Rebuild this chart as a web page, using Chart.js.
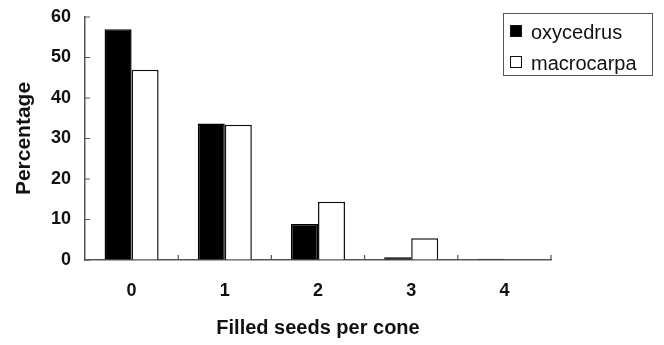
<!DOCTYPE html>
<html>
<head>
<meta charset="utf-8">
<script src="https://cdn.jsdelivr.net/npm/chart.js@4"></script>
<style>
    body { margin: 0; background: #fff; }
    #wrap { position: relative; width: 664px; height: 345px; }
    #legend {
        position: absolute; left: 503px; top: 13px; width: 148px; height: 61px;
        border: 1.5px solid #555; font-family: "Liberation Sans", Arial, sans-serif;
        font-size: 20px; color: #111;
    }
    .row { position: absolute; left: 6px; height: 22px; line-height: 22px; }
    .box { position: absolute; left: 0; top: 4px; width: 12px; height: 12px; border: 1.5px solid #111; box-sizing: border-box; }
    .lbl { position: absolute; left: 21px; top: 0; white-space: nowrap; }
</style>
</head>
<body>
<div id="wrap">
    <canvas id="chart" width="664" height="345"></canvas>
    <div id="legend"></div>
</div>
<script>
// Data
const categories = ['0', '1', '2', '3', '4'];
const oxycedrus = [57, 33.7, 8.9, 0.7, 0.3];
const macrocarpa = [47, 33.4, 14.4, 5.4, 0];
const yTicks = [0, 10, 20, 30, 40, 50, 60];

const seriesNames = ['oxycedrus', 'macrocarpa'];
const seriesFill = ['#000000', '#ffffff'];

// short tick marks pointing into the plot
const innerTicks = {
    id: 'innerTicks',
    afterDraw(chart) {
        const ctx = chart.ctx;
        const x = chart.scales.x;
        const y = chart.scales.y;
        ctx.save();
        ctx.strokeStyle = '#555';
        ctx.lineWidth = 1.2;
        ctx.beginPath();
        yTicks.forEach(v => {
            const py = y.getPixelForValue(v);
            ctx.moveTo(y.right, py);
            ctx.lineTo(y.right + 5, py);
        });
        const half = (x.getPixelForValue(1) - x.getPixelForValue(0)) / 2;
        for (let i = 0; i < categories.length; i++) {
            const px = x.getPixelForValue(i) + half;
            ctx.moveTo(px, x.top);
            ctx.lineTo(px, x.top - 5);
        }
        ctx.stroke();
        ctx.restore();
    }
};

new Chart(document.getElementById('chart').getContext('2d'), {
    type: 'bar',
    data: {
        labels: categories,
        datasets: [{
            label: seriesNames[0],
            data: oxycedrus,
            backgroundColor: seriesFill[0],
            borderColor: '#000',
            borderWidth: 1.5
        }, {
            label: seriesNames[1],
            data: macrocarpa,
            backgroundColor: seriesFill[1],
            borderColor: '#111',
            borderWidth: 1.5
        }]
    },
    options: {
        responsive: false,
        animation: false,
        categoryPercentage: 0.58,
        barPercentage: 1,
        layout: { padding: { left: 0, right: 113, top: 17, bottom: 0 } },
        plugins: {
            legend: { display: false },
            tooltip: { enabled: false }
        },
        scales: {
            x: {
                grid: { drawOnChartArea: false, drawTicks: false },
                border: { display: true, color: '#555', width: 1.5 },
                ticks: {
                    padding: 20,
                    color: '#111',
                    font: { family: 'Liberation Sans', size: 18, weight: 'bold' }
                },
                title: {
                    display: true,
                    text: 'Filled seeds per cone',
                    color: '#111',
                    padding: { top: 0, bottom: 5 },
                    font: { family: 'Liberation Sans', size: 20, weight: 'bold' }
                },
                afterFit(scale) {
                    scale.height = 85;
                    scale.paddingLeft = 0;
                    scale.paddingRight = 0;
                }
            },
            y: {
                min: 0,
                max: 60,
                grid: { drawOnChartArea: false, drawTicks: false },
                border: { display: true, color: '#555', width: 1.5 },
                ticks: {
                    stepSize: 10,
                    padding: 14,
                    color: '#111',
                    font: { family: 'Liberation Sans', size: 18, weight: 'bold' }
                },
                title: {
                    display: true,
                    text: 'Percentage',
                    color: '#111',
                    padding: { top: 12, bottom: 0 },
                    font: { family: 'Liberation Sans', size: 21, weight: 'bold' }
                },
                afterFit(scale) {
                    scale.width = 85;
                    scale.paddingTop = 0;
                    scale.paddingBottom = 0;
                }
            }
        }
    },
    plugins: [innerTicks]
});

// legend as html text
const legend = document.getElementById('legend');
seriesNames.forEach((name, i) => {
    const row = document.createElement('div');
    row.className = 'row';
    row.style.top = (7 + i * 31) + 'px';
    row.innerHTML = '<span class="box" style="background:' + seriesFill[i] + '"></span><span class="lbl">' + name + '</span>';
    legend.appendChild(row);
});
</script>
</body>
</html>
